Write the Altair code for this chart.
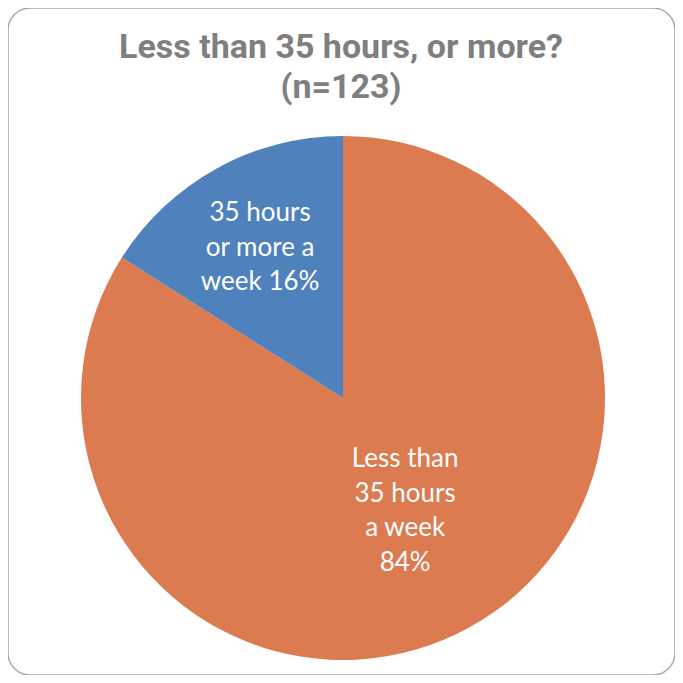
import altair as alt
import pandas as pd

categories = ["Less than 35 hours a week", "35 hours or more a week"]
percents = [84, 16]
labels = ["Less than\n35 hours\na week\n84%", "35 hours\nor more a\nweek 16%"]
order = [0, 1]
colors = ["#DC7B4F", "#4F81BD"]
title_lines = ["Less than 35 hours, or more?", "(n=123)"]

df = pd.DataFrame({"category": categories, "pct": percents, "label": labels, "order": order})

base = alt.Chart(df).encode(
    theta=alt.Theta("pct:Q", stack=True),
    order=alt.Order("order:Q"),
)

cx, cy = 335, 390

pie = base.mark_arc(radius=262).encode(
    color=alt.Color("category:N", scale=alt.Scale(domain=categories, range=colors), legend=None),
    x=alt.value(cx), y=alt.value(cy),
)

def label_layer(cat, r, dy):
    return base.mark_text(
        radius=r, font="Lato", fontSize=26, color="white", lineBreak="\n",
        lineHeight=34.5, align="center", baseline="middle", dy=dy,
    ).encode(
        text=alt.condition(alt.datum.category == cat, "label:N", alt.value("")),
        x=alt.value(cx), y=alt.value(cy),
    )

lab_orange = label_layer(categories[0], 129, -52)
lab_blue = label_layer(categories[1], 172, -34)

title = alt.Chart(pd.DataFrame({"t": [0]})).mark_text(
    text=title_lines, font="Roboto", fontWeight="bold", fontSize=34,
    color="#7F7F7F", lineHeight=40, align="center", baseline="alphabetic",
).encode(x=alt.value(333), y=alt.value(50))

chart = alt.layer(pie, lab_orange, lab_blue, title).properties(
    width=667, height=667, padding=0, autosize=alt.AutoSizeParams(type="none"),
).configure_view(
    stroke="#A6A6A6", strokeWidth=1.5, cornerRadius=22,
)

chart.save("out.html", embed_options={"renderer": "svg", "actions": False})
